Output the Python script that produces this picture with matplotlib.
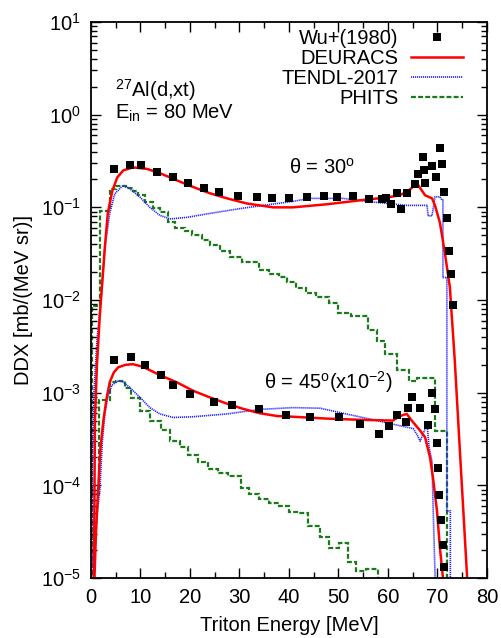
import numpy as np
import matplotlib
matplotlib.use('Agg')
import matplotlib.pyplot as plt

plt.rcParams['font.family'] = ['Liberation Sans', 'DejaVu Sans']
plt.rcParams['mathtext.fontset'] = 'custom'
plt.rcParams['mathtext.rm'] = 'Liberation Sans'
plt.rcParams['mathtext.it'] = 'Liberation Sans:italic'
plt.rcParams['mathtext.default'] = 'regular'

# --- Wu+(1980) experimental points ---
wu30_e = [4.6, 7.9, 10.1, 13.3, 16.6, 19.6, 22.8, 25.9, 29.7, 33.5, 36.6, 40.0, 43.6, 47.1,
          49.7, 52.9, 56.2, 58.8, 59.6, 60.6, 62.6, 61.8, 63.8, 65.5, 66.1, 67.3, 67.1, 67.5,
          68.9, 69.7, 70.5, 70.9, 71.3, 71.9, 72.3, 72.7, 73.1]
wu30_y = [0.258, 0.284, 0.284, 0.239, 0.211, 0.182, 0.160, 0.145, 0.131, 0.128, 0.125, 0.125,
          0.128, 0.131, 0.128, 0.131, 0.122, 0.122, 0.125, 0.110, 0.095, 0.142, 0.142, 0.177,
          0.227, 0.251, 0.348, 0.182, 0.277, 0.211, 0.434, 0.292, 0.145, 0.076, 0.034, 0.0193,
          0.0089]

wu45_e = [4.6, 8.1, 10.9, 14.1, 16.6, 20.0, 24.8, 28.5, 33.9, 39.4, 44.2, 50.1, 54.3, 58.2,
          60.2, 61.8, 63.6, 64.0, 64.8, 66.5, 68.1, 68.9, 69.5, 69.9, 70.1, 70.3, 70.7, 71.1,
          71.3]
wu45_y = [2.27e-3, 2.45e-3, 2.0e-3, 1.55e-3, 1.22e-3, 9.8e-4, 8.0e-4, 7.4e-4, 6.6e-4, 5.7e-4,
          5.5e-4, 5.4e-4, 4.6e-4, 3.6e-4, 4.4e-4, 5.7e-4, 4.8e-4, 6.9e-4, 9.0e-4, 6.8e-4, 4.5e-4,
          1.0e-3, 6.6e-4, 2.9e-4, 1.55e-4, 7.9e-5, 4.2e-5, 2.3e-5, 1.3e-5]

# --- DEURACS ---
deu30_e = [0.6, 0.8, 1.2, 1.8, 2.8, 3.4, 4.3, 5.3, 6.5, 8.5, 11.3, 13.9, 17.4, 20.6, 24.0,
           27.5, 31.5, 36.8, 40.8, 47.7, 54.3, 59.8, 62.4, 64.0, 65.9, 67.5, 68.9, 69.5, 70.5,
           71.5, 72.5, 73.5, 74.5, 75.3, 76.1]
deu30_y = [1e-5, 5e-4, 2e-3, 7e-3, 0.037, 0.087, 0.15, 0.21, 0.25, 0.27, 0.26, 0.234, 0.195,
           0.166, 0.142, 0.125, 0.110, 0.100, 0.100, 0.108, 0.119, 0.128, 0.135, 0.150, 0.18,
           0.135, 0.125, 0.105, 0.068, 0.032, 0.0138, 2.2e-3, 2.5e-4, 4.5e-5, 8e-6]

deu45_e = [0.7, 1.0, 1.4, 1.9, 2.5, 3.2, 3.8, 4.6, 5.5, 7.0, 8.5, 10.5, 13.9, 17.4, 20.6, 24.0,
           27.5, 30.7, 34.1, 37.6, 40.8, 47.7, 54.3, 61.0, 62.4, 63.8, 64.8, 66.5, 67.5, 68.5,
           69.1, 69.9, 70.5, 71.2]
deu45_y = [1e-5, 3e-5, 8e-5, 2.5e-4, 5e-4, 9e-4, 1.3e-3, 1.65e-3, 1.88e-3, 2.0e-3, 2.03e-3,
           1.9e-3, 1.55e-3, 1.29e-3, 1.05e-3, 8.9e-4, 7.6e-4, 6.7e-4, 6.0e-4, 5.6e-4, 5.5e-4,
           5.25e-4, 5.1e-4, 5.0e-4, 5.6e-4, 5.9e-4, 5.0e-4, 3.9e-4, 3.3e-4, 2.0e-4, 1.2e-4,
           5.3e-5, 2.1e-5, 9e-6]

# --- TENDL-2017 ---
ten30_e = [0.1, 0.3, 0.6, 1.2, 2.2, 2.8, 3.8, 4.8, 6.5, 7.9, 9.9, 11.9, 13.9, 16.0, 19.4, 24.0,
           30.7, 37.6, 40.8, 44.2, 50.9, 57.8, 63.8, 67.9, 68.1, 68.9, 69.5, 70.5, 70.9, 71.1,
           71.1, 71.9, 71.9, 72.6, 72.6]
ten30_y = [1e-5, 2e-4, 1e-3, 3.6e-3, 0.013, 0.037, 0.087, 0.14, 0.173, 0.158, 0.129, 0.100,
           0.082, 0.075, 0.078, 0.086, 0.098, 0.110, 0.116, 0.125, 0.125, 0.113, 0.105, 0.105,
           0.081, 0.081, 0.13, 0.13, 0.12, 0.12, 0.0175, 0.0175, 5.3e-5, 5.3e-5, 1e-7]

ten45_e = [0.2, 0.8, 1.8, 2.3, 2.8, 3.4, 4.2, 5.5, 6.5, 7.9, 9.9, 11.9, 13.9, 16.6, 20.6, 27.5,
           34.1, 40.8, 46.3, 50.9, 57.8, 62.4, 65.1, 65.9, 66.5, 67.9, 68.3, 68.9, 69.1, 69.5,
           69.6]
ten45_y = [1.3e-5, 3e-5, 9e-5, 3e-4, 6e-4, 9e-4, 1.2e-3, 1.35e-3, 1.3e-3, 1.13e-3, 8.9e-4,
           6.9e-4, 5.9e-4, 5.4e-4, 5.5e-4, 5.9e-4, 6.6e-4, 6.9e-4, 6.8e-4, 6.0e-4, 5.0e-4,
           4.4e-4, 4.1e-4, 3.5e-4, 3.0e-4, 4.6e-4, 2.6e-4, 1.8e-4, 6.3e-5, 1.1e-5, 1e-7]

# --- PHITS (histograms) ---
phi30_edges = [0.2, 1.8, 3.8, 5.0, 7.0, 8.5, 9.5, 11.0, 12.5, 14.0, 15.5, 17.0, 19.0, 20.5,
               22.5, 24.0, 26.0, 28.0, 30.5, 34.0, 36.0, 38.0, 39.5, 41.5, 43.5, 45.5, 48.0,
               50.0, 52.5, 56.0, 57.8, 59.4, 61.8, 64.2, 65.8, 69.6, 71.9]
phi30_vals = [0.0087, 0.091, 0.157, 0.17, 0.16, 0.15, 0.135, 0.114, 0.098, 0.088, 0.069, 0.060,
              0.056, 0.050, 0.044, 0.039, 0.034, 0.029, 0.026, 0.021, 0.019, 0.0175, 0.0155,
              0.0136, 0.012, 0.0107, 0.0094, 0.0073, 0.0068, 0.0048, 0.0036, 0.0026, 0.00174,
              0.00135, 0.00145, 3.9e-4]

phi45_edges = [0.2, 1.6, 3.8, 5.0, 6.8, 8.0, 9.9, 11.9, 14.2, 16.0, 18.0, 19.6, 21.6, 23.6,
               25.6, 27.6, 30.4, 32.0, 34.0, 36.0, 38.0, 40.0, 42.0, 43.8, 46.2, 48.0, 50.2,
               52.0, 53.6, 55.6, 57.9]
phi45_vals = [8.1e-5, 8.4e-4, 1.29e-3, 1.35e-3, 1.13e-3, 8.8e-4, 6.4e-4, 5.0e-4, 4.0e-4, 3.0e-4,
              2.6e-4, 2.1e-4, 1.8e-4, 1.5e-4, 1.37e-4, 1.25e-4, 9.3e-5, 8.1e-5, 7.1e-5, 6.4e-5,
              6.0e-5, 5.2e-5, 5.0e-5, 3.6e-5, 2.8e-5, 2.1e-5, 2.4e-5, 1.5e-5, 1.2e-5, 1.26e-5]

fig = plt.figure(figsize=(5.01, 6.38), dpi=100)
ax = fig.add_axes([0.1816, 0.094, 0.7904, 0.8715])

red = '#ff0000'
blue = '#1e1eff'
green = '#1a7a1a'
fs = 14.5
dots = (0, (0.7, 0.5))
dash = (0, (2.2, 1.0))

# PHITS
for edges, vals in [(phi30_edges, phi30_vals), (phi45_edges, phi45_vals)]:
    ax.stairs(vals, edges, baseline=1e-8, color=green, lw=1.6, linestyle=dash)
# TENDL
ax.plot(ten30_e, ten30_y, color=blue, lw=1.2, linestyle=dots)
ax.plot(ten45_e, ten45_y, color=blue, lw=1.2, linestyle=dots)
# DEURACS
ax.plot(deu30_e, deu30_y, color=red, lw=1.8)
ax.plot(deu45_e, deu45_y, color=red, lw=1.8)
# data
ax.plot(wu30_e, wu30_y, 's', color='black', ms=5.2, mew=0, ls='none')
ax.plot(wu45_e, wu45_y, 's', color='black', ms=5.2, mew=0, ls='none')

# legend handles
h_wu, = ax.plot([], [], 's', color='black', ms=5.2, mew=0, ls='none', label='Wu+(1980)')
h_deu, = ax.plot([], [], color=red, lw=1.8, label='DEURACS')
h_ten, = ax.plot([], [], color=blue, lw=1.2, linestyle=dots, label='TENDL-2017')
h_phi, = ax.plot([], [], color=green, lw=1.6, linestyle=dash, label='PHITS')
ax.legend(handles=[h_wu, h_deu, h_ten, h_phi], loc='upper right',
          bbox_to_anchor=(0.94, 0.987), frameon=False, markerfirst=False,
          fontsize=fs, handlelength=2.6, handletextpad=0.6, labelspacing=0.04,
          borderpad=0, borderaxespad=0)

ax.set_yscale('log')
ax.set_xlim(0, 80)
ax.set_ylim(1e-5, 10)
ax.set_xticks(np.arange(0, 81, 10))
ax.set_xticks(np.arange(5, 80, 10), minor=True)
ax.tick_params(which='both', direction='in', top=True, right=True, labelsize=fs,
               width=1.0)
ax.tick_params(which='major', length=7, pad=7)
ax.tick_params(which='minor', length=4)
for s in ax.spines.values():
    s.set_linewidth(1.3)

ax.set_xlabel('Triton Energy [MeV]', fontsize=fs, labelpad=7)
ax.set_ylabel('DDX [mb/(MeV sr)]', fontsize=fs, labelpad=6)

ax.text(0.061, 0.865, '$^{27}$Al(d,xt)', transform=ax.transAxes, fontsize=fs, va='baseline')
ax.text(0.061, 0.8255, 'E$_{in}$ = 80 MeV', transform=ax.transAxes, fontsize=fs, va='baseline')
ax.text(0.5, 0.728, 'θ = 30$^{o}$', transform=ax.transAxes, fontsize=fs, va='baseline')
ax.text(0.437, 0.340, 'θ = 45$^{o}$(x10$^{-2}$)', transform=ax.transAxes, fontsize=fs,
        va='baseline')

fig.savefig('out.png', dpi=100)
